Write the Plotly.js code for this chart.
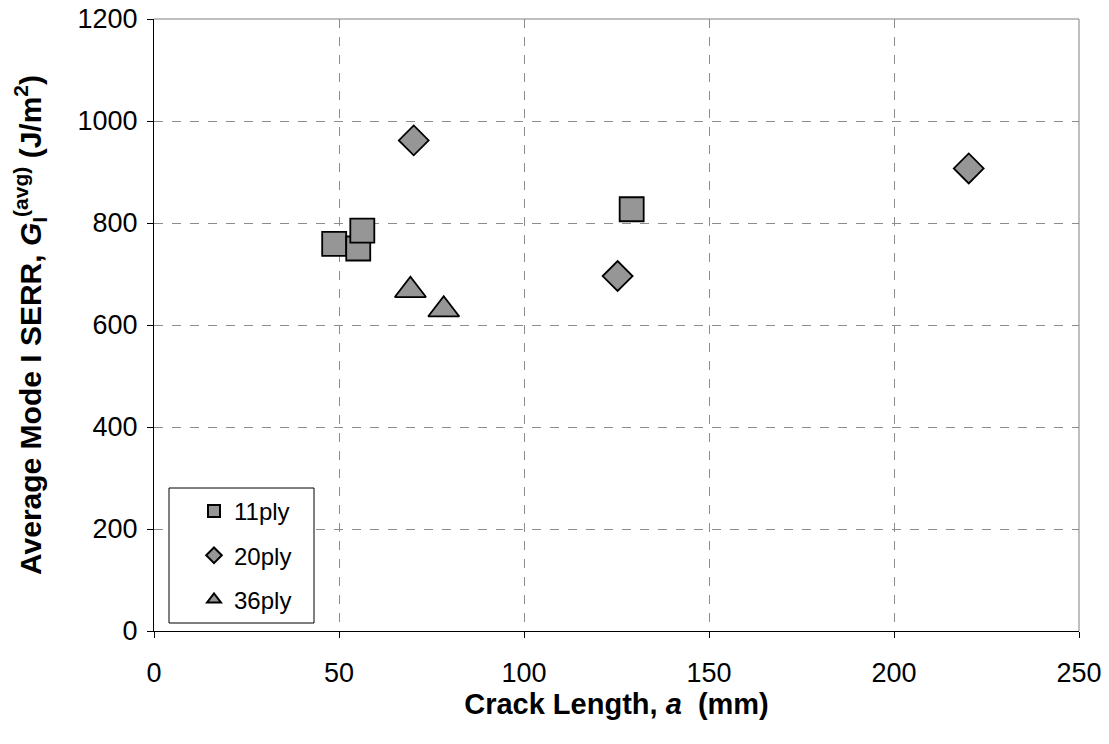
<!DOCTYPE html>
<html><head><meta charset="utf-8">
<script src="https://cdn.plot.ly/plotly-3.0.1.min.js"></script>
<style>body{margin:0;background:#fff}#chart{width:1109px;height:744px}</style>
</head><body><div id="chart"></div>
<script>
const x11 = [48.7, 55.2, 56.3, 129.1];
const y11 = [759, 750, 785, 827];
const x20 = [70.2, 125.3, 220.2];
const y20 = [962, 696, 907];
const x36 = [69.3, 78.3];
const y36 = [668, 630];
const names = ['11ply', '20ply', '36ply'];

const fill = '#969696';
const mk = (sym, size) => ({symbol: sym, size: size, color: fill, line: {color: '#000', width: 1.8}});
const traces = [
  {x: x11, y: y11, name: names[0], legendgroup: 'a', type: 'scatter', mode: 'markers', marker: mk('square', 24)},
  {x: x20, y: y20, name: names[1], legendgroup: 'b', type: 'scatter', mode: 'markers', marker: mk('diamond', 23)},
  {x: x36, y: y36, name: names[2], legendgroup: 'c', type: 'scatter', mode: 'markers', marker: mk('triangle-up', 27)}
];
const fam = 'Arial, Liberation Sans, sans-serif';
// plot area: x 154..1079, y 19..631
const px = v => (v - 154) / 925;
const py = v => (631 - v) / 612;
const layout = {
  width: 1109, height: 744,
  margin: {l: 154, r: 30, t: 19, b: 113},
  paper_bgcolor: '#fff', plot_bgcolor: '#fff',
  font: {family: fam, color: '#000'},
  showlegend: true,
  legend: {
    x: px(194), y: py(489), xanchor: 'left', yanchor: 'top',
    borderwidth: 0, bgcolor: 'rgba(0,0,0,0)',
    font: {family: fam, size: 24, color: '#000'},
    itemsizing: 'constant', tracegroupgap: 10, traceorder: 'grouped'
  },
  xaxis: {
    range: [0, 250], dtick: 50, tick0: 0,
    showgrid: true, gridcolor: '#8c8c8c', griddash: 'dash', gridwidth: 1,
    showline: true, linecolor: '#000', linewidth: 1,
    ticks: 'outside', ticklen: 6, tickcolor: '#000', ticklabelstandoff: 12,
    tickfont: {size: 27, family: fam, color: '#000'},
    zeroline: false,
    title: {text: '<b>Crack Length, <i>a</i>  (mm)</b>', font: {size: 29, family: fam, color: '#000'}, standoff: 5}
  },
  yaxis: {
    range: [0, 1200], dtick: 200, tick0: 0,
    showgrid: true, gridcolor: '#8c8c8c', griddash: 'dash', gridwidth: 1,
    showline: true, linecolor: '#000', linewidth: 1,
    ticks: 'outside', ticklen: 6, tickcolor: '#000', ticklabelstandoff: 4,
    tickfont: {size: 27, family: fam, color: '#000'},
    zeroline: false,
    title: {text: '<b>Average Mode I SERR, <i>G</i><sub>I</sub><sup>(avg)</sup> (J/m<sup>2</sup>)</b>', font: {size: 30, family: fam, color: '#000'}, standoff: 27}
  },
  shapes: [
    {type: 'line', xref: 'paper', yref: 'paper', x0: 0, x1: 1, y0: 1, y1: 1, line: {color: '#808080', width: 1}},
    {type: 'line', xref: 'paper', yref: 'paper', x0: 1, x1: 1, y0: 0, y1: 1, line: {color: '#808080', width: 1}},
    {type: 'rect', xref: 'paper', yref: 'paper', x0: px(169), x1: px(314), y0: py(623), y1: py(488),
     line: {color: '#000', width: 1}, fillcolor: '#fff', layer: 'above'}
  ]
};
Plotly.newPlot('chart', traces, layout, {displayModeBar: false});
</script></body></html>
